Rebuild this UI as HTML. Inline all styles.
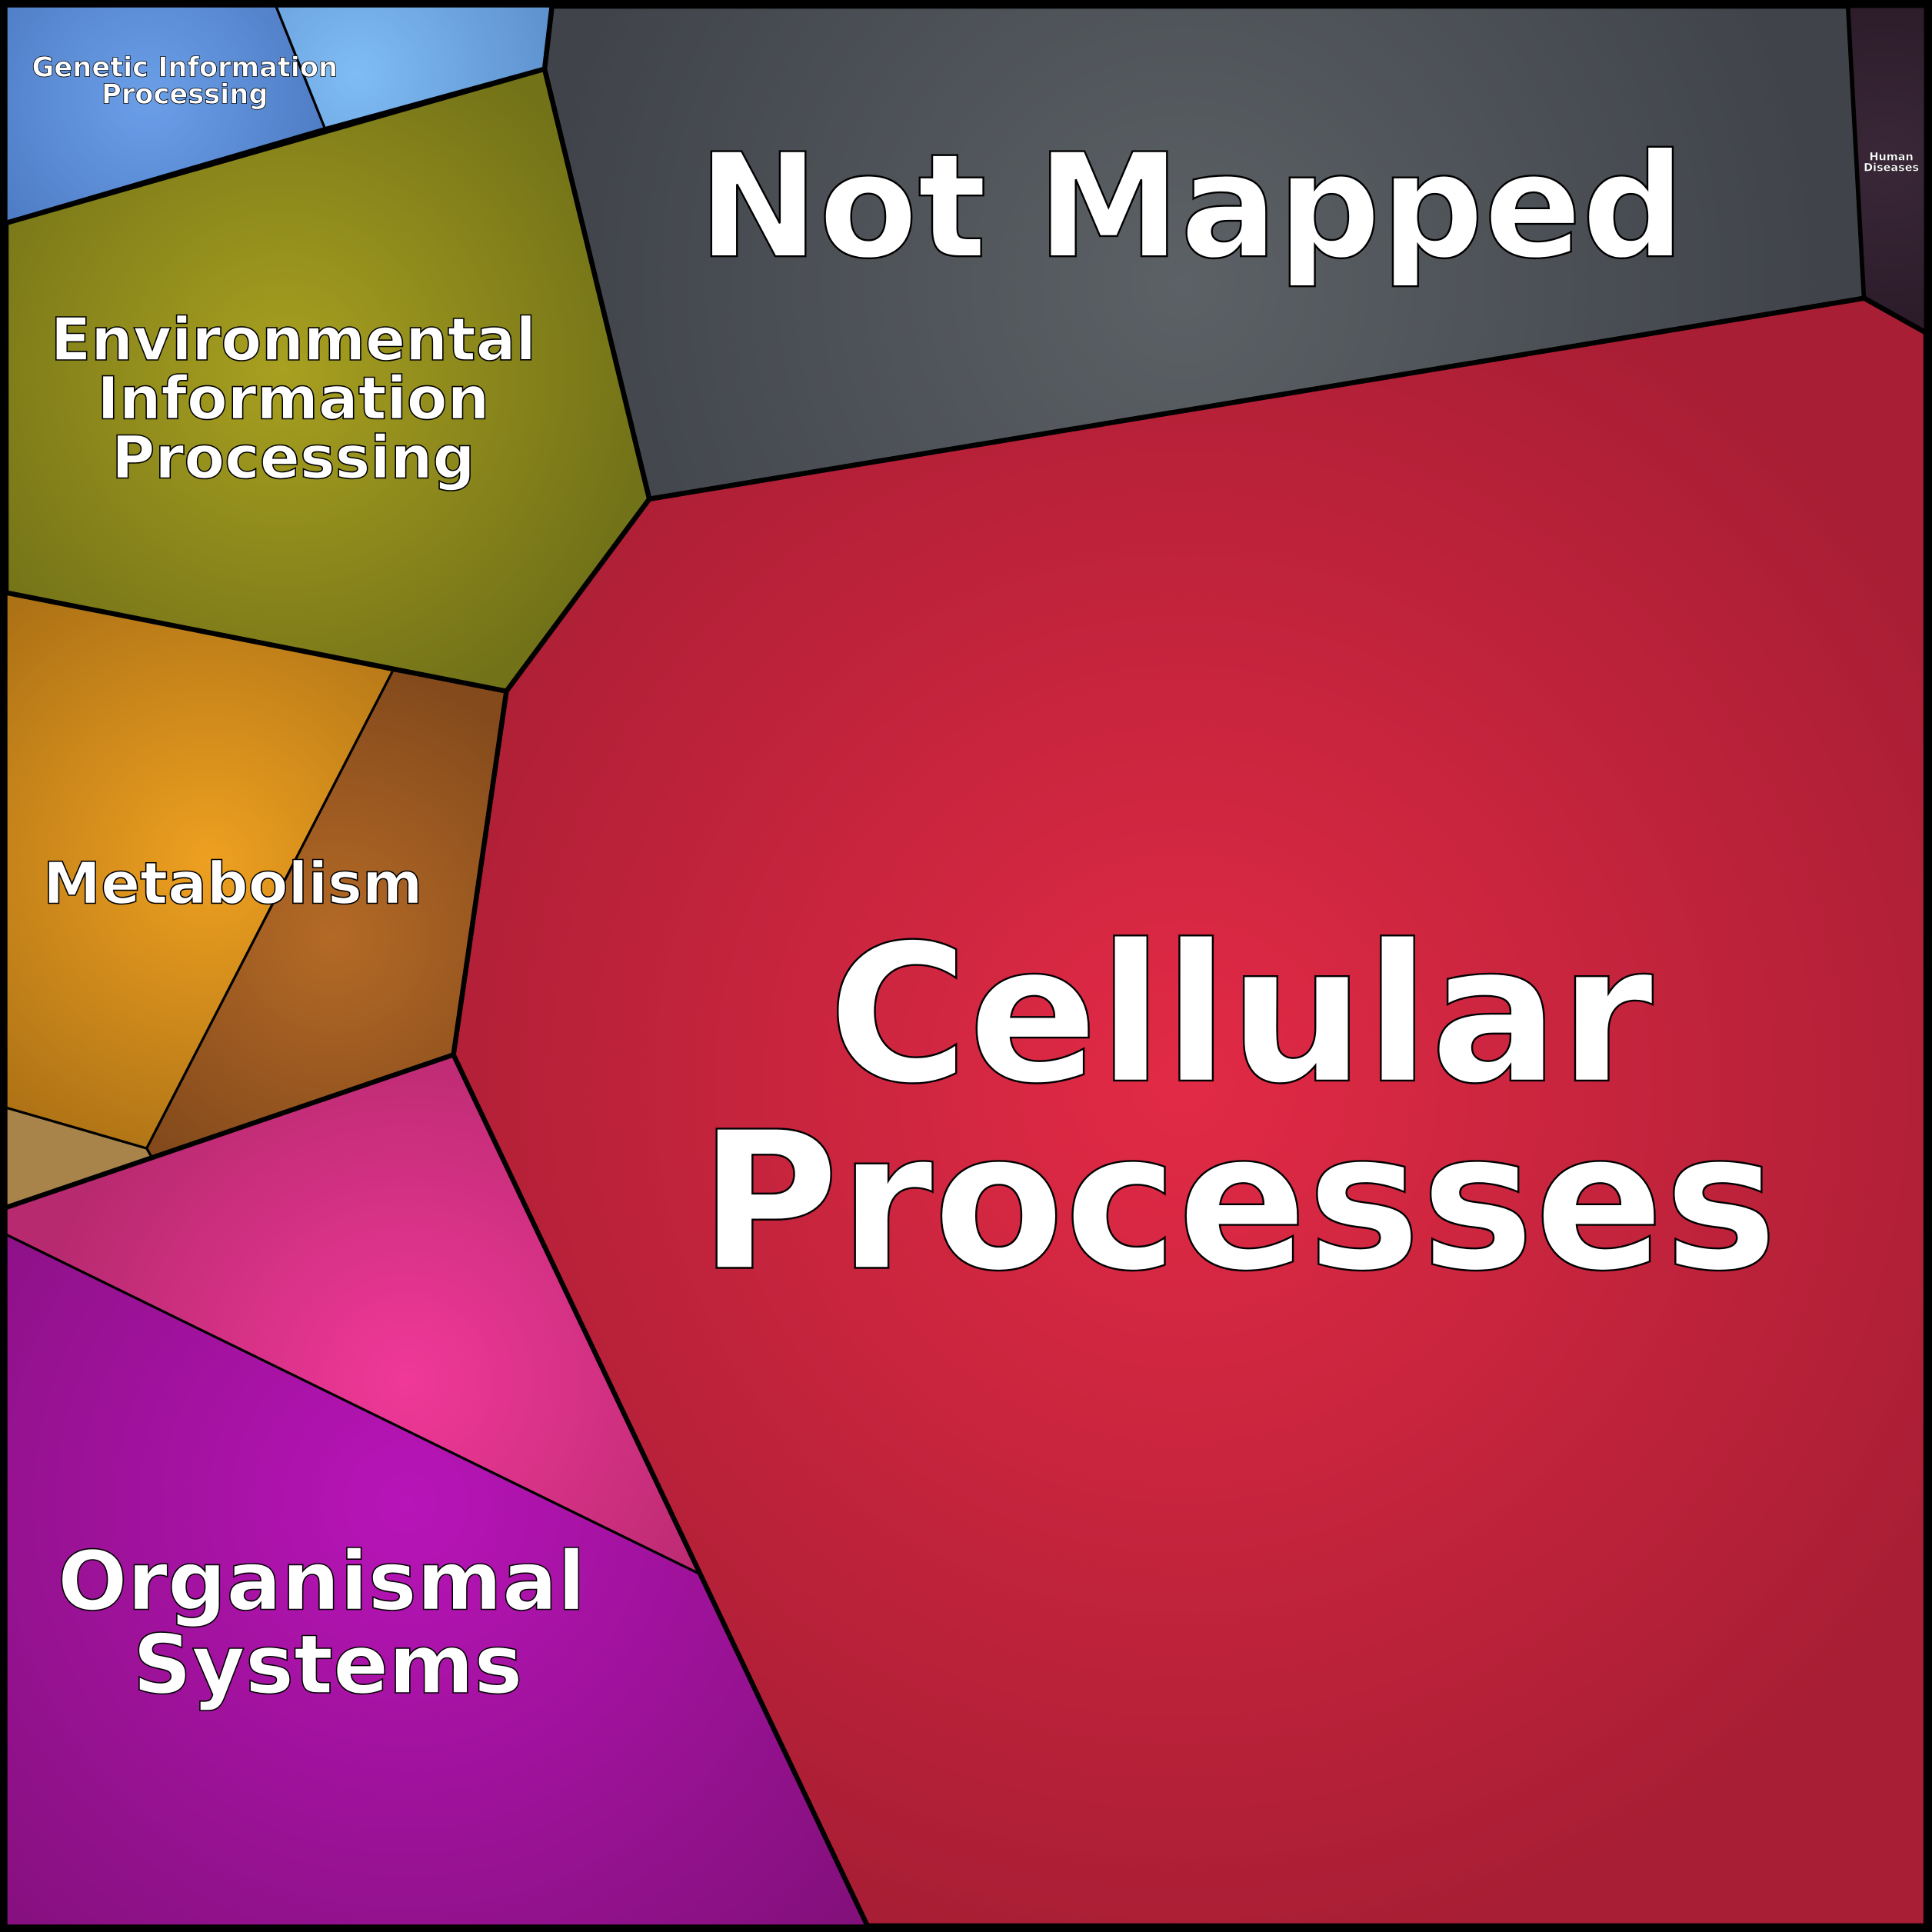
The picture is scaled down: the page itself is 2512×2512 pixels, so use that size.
<!DOCTYPE html>
<html><head><meta charset="utf-8"><style>html,body{margin:0;padding:0;background:#000}svg{display:block}</style></head><body>
<svg width="2512" height="2512" viewBox="0 0 1568 1568" xmlns="http://www.w3.org/2000/svg">
<defs>
<radialGradient id="gb" cx="290" cy="60" r="260" gradientUnits="userSpaceOnUse"><stop offset="0" stop-color="#7fbcf4"/><stop offset="1" stop-color="#4a78b8"/></radialGradient>
<radialGradient id="gb2" cx="120" cy="80" r="200" gradientUnits="userSpaceOnUse"><stop offset="0" stop-color="#6a9fe8"/><stop offset="1" stop-color="#4570b8"/></radialGradient>
<radialGradient id="ge" cx="230" cy="300" r="300" gradientUnits="userSpaceOnUse"><stop offset="0" stop-color="#a8a020"/><stop offset="1" stop-color="#727218"/></radialGradient>
<radialGradient id="gn" cx="960" cy="230" r="520" gradientUnits="userSpaceOnUse"><stop offset="0" stop-color="#5c6166"/><stop offset="1" stop-color="#40444a"/></radialGradient>
<radialGradient id="gh" cx="1530" cy="130" r="150" gradientUnits="userSpaceOnUse"><stop offset="0" stop-color="#3a2838"/><stop offset="1" stop-color="#2a1a28"/></radialGradient>
<radialGradient id="gc" cx="960" cy="880" r="720" gradientUnits="userSpaceOnUse"><stop offset="0" stop-color="#e22a46"/><stop offset="1" stop-color="#a81e34"/></radialGradient>
<radialGradient id="gm" cx="170" cy="700" r="260" gradientUnits="userSpaceOnUse"><stop offset="0" stop-color="#eea020"/><stop offset="1" stop-color="#ad7216"/></radialGradient>
<radialGradient id="gm2" cx="270" cy="760" r="220" gradientUnits="userSpaceOnUse"><stop offset="0" stop-color="#b46a26"/><stop offset="1" stop-color="#844a1c"/></radialGradient>
<radialGradient id="gp" cx="330" cy="1120" r="300" gradientUnits="userSpaceOnUse"><stop offset="0" stop-color="#f03898"/><stop offset="1" stop-color="#b82a70"/></radialGradient>
<radialGradient id="gv" cx="330" cy="1220" r="520" gradientUnits="userSpaceOnUse"><stop offset="0" stop-color="#b814b8"/><stop offset="1" stop-color="#801078"/></radialGradient>
</defs>
<g stroke="#000" stroke-linejoin="round">
<polygon points="5,5 224,5 264,105 5,181" fill="url(#gb2)" stroke-width="2"/>
<polygon points="224,5 448,5 442,56 264,105" fill="url(#gb)" stroke-width="2"/>
<polygon points="5,181 264,105 442,56 527,405 411,561 5,481" fill="url(#ge)" stroke-width="4"/>
<polygon points="448,5 1500,5 1513,242 527,405 442,56" fill="url(#gn)" stroke-width="4"/>
<polygon points="1500,5 1563,5 1563,270 1513,242" fill="url(#gh)" stroke-width="3"/>
<polygon points="527,405 1513,242 1563,270 1563,1563 704,1563 567,1277 368,856 411,561" fill="url(#gc)" stroke-width="4"/>
<polygon points="5,481 319,544 119,932 5,899" fill="url(#gm)" stroke-width="2"/>
<polygon points="319,544 411,561 368,856 123,939 119,932" fill="url(#gm2)" stroke-width="2"/>
<polygon points="5,899 119,932 123,939 5,980" fill="#a8844a" stroke-width="2"/>
<polygon points="5,980 368,856 567,1277 5,1002" fill="url(#gp)" stroke-width="2"/>
<polygon points="5,1002 567,1277 704,1563 5,1563" fill="url(#gv)" stroke-width="2"/>
<path d="M5,481 L411,561 L368,856 L5,980 M442,56 L527,405 L1513,242 L1563,270 M527,405 L411,561 M368,856 L704,1563 M5,181 L442,56 L448,5" fill="none" stroke-width="4"/>
<rect x="3" y="3" width="1562" height="1562" fill="none" stroke-width="6"/>
</g>
<g font-family="'DejaVu Sans','Liberation Sans',sans-serif" font-weight="bold" fill="#fff" stroke="#000" text-anchor="middle">
<text x="150" y="62" font-size="22" stroke-width="0.5">Genetic Information</text>
<text x="150" y="84" font-size="22" stroke-width="0.5">Processing</text>
<text x="238" y="292" font-size="48" stroke-width="1">Environmental</text>
<text x="238" y="340" font-size="48" stroke-width="1">Information</text>
<text x="238" y="388" font-size="48" stroke-width="1">Processing</text>
<text x="967" y="208" font-size="117" stroke-width="1.5">Not Mapped</text>
<text x="1535" y="130" font-size="9" stroke-width="0.2">Human</text>
<text x="1535" y="139" font-size="9" stroke-width="0.2">Diseases</text>
<text x="189" y="733" font-size="47" stroke-width="1">Metabolism</text>
<text x="1007" y="877" font-size="155" stroke-width="1.5">Cellular</text>
<text x="1005" y="1029" font-size="155" stroke-width="1.5">Processes</text>
<text x="261" y="1306" font-size="66.5" stroke-width="1">Organismal</text>
<text x="266" y="1374" font-size="66.5" stroke-width="1">Systems</text>
</g>
</svg>
</body></html>
